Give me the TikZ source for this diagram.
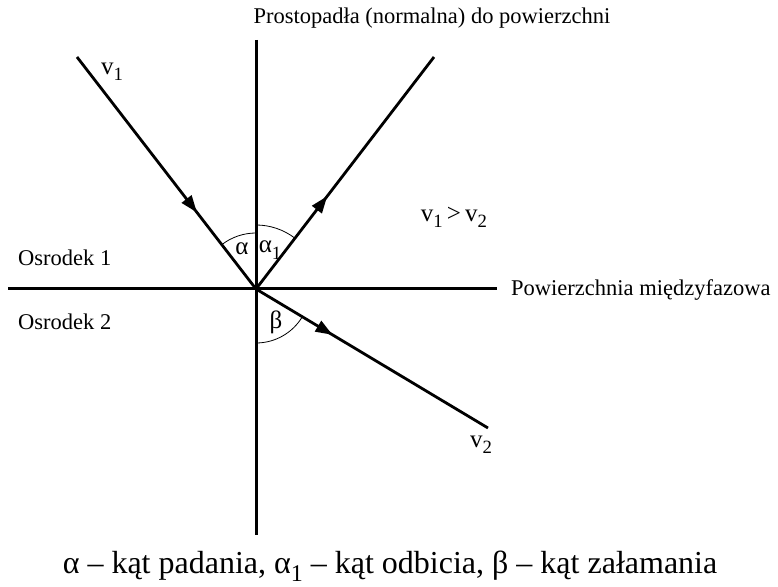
\documentclass[tikz,border=0pt]{standalone}
\usepackage{fontspec}
\setmainfont{Liberation Serif}
\usetikzlibrary{arrows.meta,decorations.markings}
\newcommand{\sub}[1]{\raisebox{-0.55ex}{\scalebox{0.75}{#1}}}
\tikzset{
  ray/.style={line width=2.8pt},
  axis/.style={line width=3pt},
  arc/.style={line width=0.8pt},
  midarrow/.style={postaction={decorate},decoration={markings,
      mark=at position #1 with {\arrow{Triangle[length=17pt,width=12pt]}}}},
  lbl/.style={font=\fontsize{22.5}{26}\selectfont, inner sep=0pt},
  greek/.style={font=\fontsize{25}{28}\selectfont, inner sep=0pt}
}
\begin{document}
\begin{tikzpicture}[x=1pt,y=1pt]
\useasboundingbox (0,0) rectangle (778,586);
% punkty
\coordinate (O) at (256,297);
\coordinate (ntop) at (256,546);
\coordinate (nbot) at (256,51);
\coordinate (sleft) at (8,297);
\coordinate (sright) at (497,297);
\coordinate (v1) at (77,529);
\coordinate (r1) at (434,529);
\coordinate (v2) at (488,158);
% os i powierzchnia
\draw[axis] (ntop) -- (nbot);
\draw[axis] (sleft) -- (sright);
% promienie
\draw[ray,midarrow=0.67] (v1) -- (O);
\draw[ray,midarrow=0.40] (O) -- (r1);
\draw[ray,midarrow=0.33] (O) -- (v2);
% katy
\draw[arc] (O) ++(90:56) arc (90:127.7:56);
\draw[arc] (O) ++(90:64) arc (90:52.5:64);
\draw[arc] (O) ++(-90:54) arc (-90:-31:54);
\node[greek] (alpha) at (242,337) {α};
\node[greek] (alpha1) at (270,336) {α\sub{1}};
\node[greek] (beta) at (276,264) {β};
% opisy
\node[lbl] (top) at (432,568) {Prostopadła (normalna) do powierzchni};
\node[lbl,anchor=west] (pow) at (511,296) {Powierzchnia międzyfazowa};
\node[lbl,anchor=west] (os1) at (18,328) {Osrodek 1};
\node[lbl,anchor=west] (os2) at (18,264) {Osrodek 2};
\node[greek] (lv1) at (112,514) {v\sub{1}};
\node[greek] (lv2) at (481,141) {v\sub{2}};
\node[greek] (cmp) at (454,369) {v\sub{1}\,>\,v\sub{2}};
\node[font=\fontsize{32}{35}\selectfont, inner sep=0pt] (cap) at (390,20)
  {α – kąt padania, α\sub{1} – kąt odbicia, β – kąt załamania};
\end{tikzpicture}
\end{document}
